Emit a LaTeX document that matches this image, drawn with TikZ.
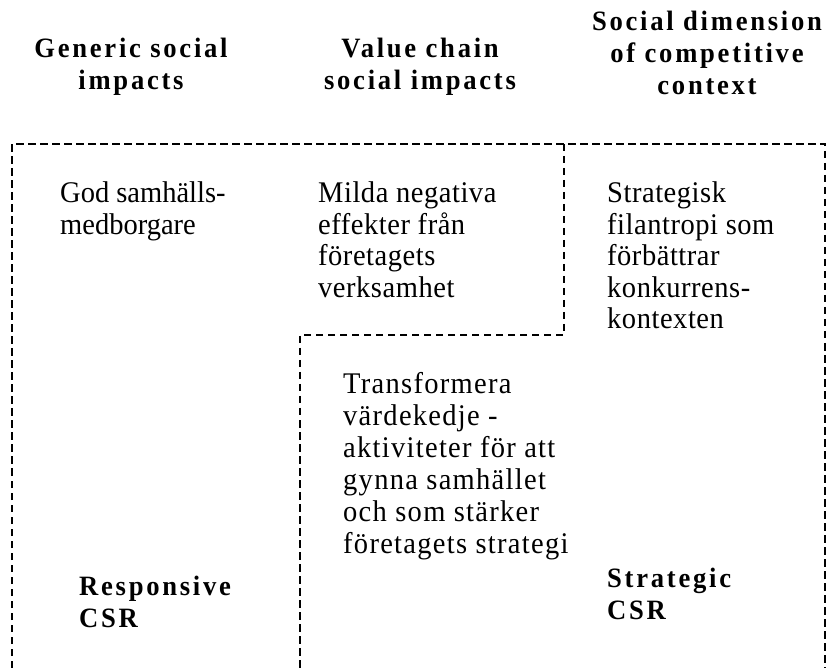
\documentclass[tikz,border=0pt]{standalone}
\usepackage{fontspec}
\setmainfont{Liberation Serif}
\newfontfamily\headfont[LetterSpace=9.8, FakeStretch=0.95]{Liberation Serif}
\newfontfamily\bodyfont[FakeStretch=0.95]{Liberation Serif}
\newfontfamily\widebodyfont[LetterSpace=1.8, FakeStretch=0.95]{Liberation Serif}
\newfontfamily\widerbodyfont[LetterSpace=4.3, FakeStretch=0.95]{Liberation Serif}
% stacked lines, baseline on the first line
\newcommand{\leftlines}[1]{\begin{tabular}[t]{@{}l@{}}#1\end{tabular}}
\newcommand{\centerlines}[1]{\begin{tabular}[t]{@{}c@{}}#1\end{tabular}}
\tikzset{
  heading/.style={inner sep=0pt, anchor=base, font=\headfont\bfseries\fontsize{28}{32}\selectfont},
  cell/.style={inner sep=0pt, anchor=base west, font=\bodyfont\fontsize{30}{31.5}\selectfont},
  widecell/.style={cell, font=\widebodyfont\fontsize{30}{31.5}\selectfont},
  widercell/.style={cell, font=\widerbodyfont\fontsize{30}{32}\selectfont},
  label/.style={inner sep=0pt, anchor=base west, font=\headfont\bfseries\fontsize{28}{32}\selectfont},
  border/.style={line width=2.5pt, dash pattern=on 7.5pt off 4.5pt, line cap=butt}
}
\begin{document}
\begin{tikzpicture}[x=1pt, y=-1pt]
  \useasboundingbox (0,0) rectangle (828,668);

  % column headings
  \node[heading] (h1) at (131,58) {\centerlines{Generic social\\impacts}};
  \node[heading] (h2) at (420,58) {\centerlines{Value chain\\social impacts}};
  \node[heading] (h3) at (707,31) {\centerlines{Social dimension\\of competitive\\context}};

  % region outlines
  \coordinate (tl) at (12,144);
  \coordinate (tr) at (825,144);
  \coordinate (bl) at (12,668);
  \coordinate (br) at (825,668);
  \coordinate (mt) at (564,144);
  \coordinate (mk) at (564,335);
  \coordinate (lk) at (300,335);
  \coordinate (lb) at (300,668);
  \draw[border] (bl) -- (tl) -- (tr) -- (br);
  \draw[border] (mt) -- (mk) -- (lk) -- (lb);

  % cell texts
  \node[cell] (c1) at (60,203) {\leftlines{God samhälls-\\medborgare}};
  \node[widecell] (c2) at (318,203)
    {\leftlines{Milda negativa\\effekter från\\företagets\\verksamhet}};
  \node[widecell] (c3) at (607,203)
    {\leftlines{Strategisk\\filantropi som\\förbättrar\\konkurrens-\\kontexten}};
  \node[widercell] (c4) at (343,394)
    {\leftlines{Transformera\\värdekedje -\\aktiviteter för att\\gynna samhället\\och som stärker\\företagets strategi}};

  % CSR labels
  \node[label] (r1) at (79,595) {\leftlines{Responsive\\CSR}};
  \node[label] (r2) at (607,587) {\leftlines{Strategic\\CSR}};
\end{tikzpicture}
\end{document}
